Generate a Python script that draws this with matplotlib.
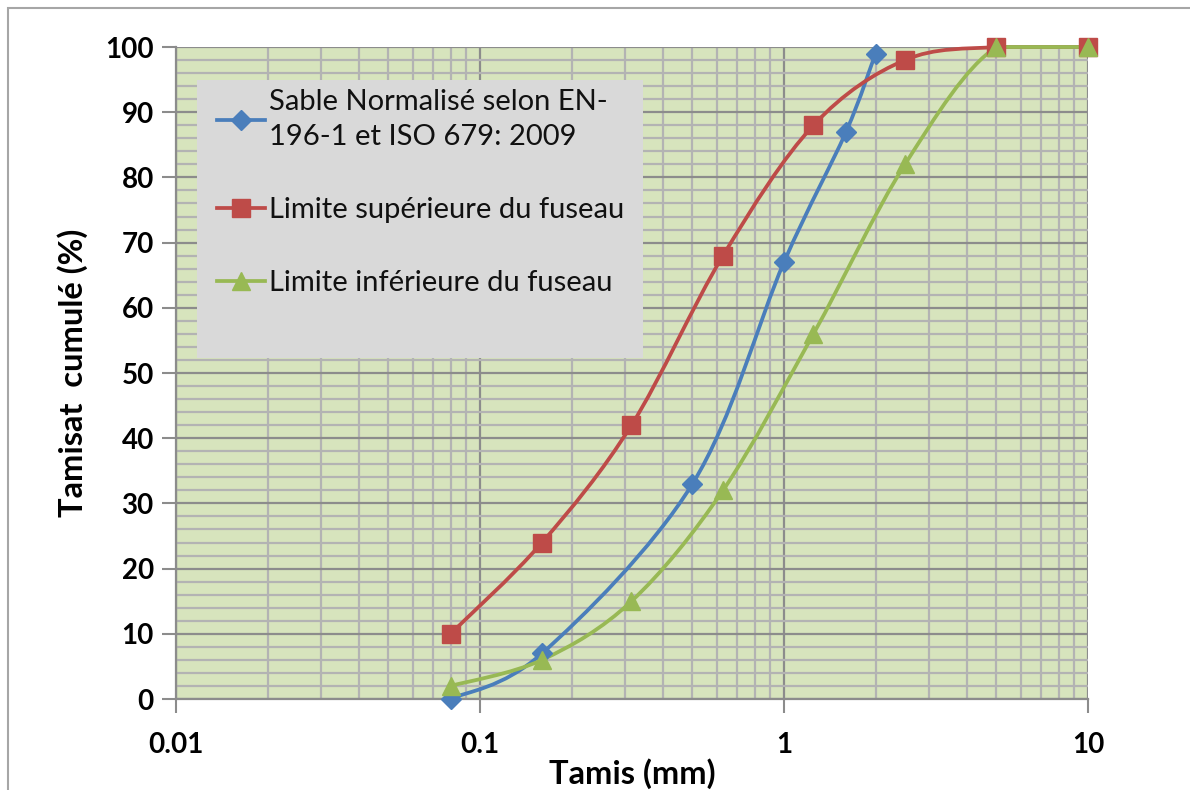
import numpy as np
import matplotlib.pyplot as plt
from matplotlib.path import Path
from matplotlib.patches import PathPatch, Rectangle
from matplotlib.lines import Line2D
from matplotlib.ticker import LogLocator, FixedLocator, MultipleLocator

# data
sable_x = [0.08, 0.16, 0.5, 1.0, 1.6, 2.0]
sable_y = [0, 7, 33, 67, 87, 99]
sup_x = [0.08, 0.16, 0.315, 0.63, 1.25, 2.5, 5, 10]
sup_y = [10, 24, 42, 68, 88, 98, 100, 100]
inf_x = [0.08, 0.16, 0.315, 0.63, 1.25, 2.5, 5, 10]
inf_y = [2, 6, 15, 32, 56, 82, 100, 100]

labels = ["Sable Normalisé selon EN-\n196-1 et ISO 679: 2009",
          "Limite supérieure du fuseau",
          "Limite inférieure du fuseau"]
colors = ["#4A7EBB", "#BE4B48", "#98B954"]
markers = ["D", "s", "^"]

plt.rcParams['font.family'] = ['Lato', 'DejaVu Sans']


def smooth_path(x, y):
    # Excel-like smoothed line: bezier through points, done in log-x space
    lx = np.log10(x)
    y = np.asarray(y, float)
    n = len(lx)
    verts = [(x[0], y[0])]
    codes = [Path.MOVETO]
    for i in range(n - 1):
        p0 = (lx[i - 1], y[i - 1]) if i > 0 else (lx[i], y[i])
        p1 = (lx[i], y[i])
        p2 = (lx[i + 1], y[i + 1])
        p3 = (lx[i + 2], y[i + 2]) if i + 2 < n else p2
        lo, hi = min(p1[1], p2[1]), max(p1[1], p2[1])
        c1 = (p1[0] + (p2[0] - p0[0]) / 6,
              np.clip(p1[1] + (p2[1] - p0[1]) / 6, lo, hi))
        c2 = (p2[0] - (p3[0] - p1[0]) / 6,
              np.clip(p2[1] - (p3[1] - p1[1]) / 6, lo, hi))
        for c in (c1, c2, p2):
            verts.append((10 ** c[0], c[1]))
            codes.append(Path.CURVE4)
    return Path(verts, codes)


fig = plt.figure(figsize=(11.9, 7.9), dpi=100)
ax = fig.add_axes([176 / 1190, 1 - 699 / 790, 912 / 1190, 652 / 790])
ax.set_facecolor("#D7E4BD")

ax.set_xscale("log")
ax.set_xlim(0.01, 10)
ax.set_ylim(0, 100)

ax.xaxis.set_major_locator(FixedLocator([0.01, 0.1, 1, 10]))
ax.xaxis.set_minor_locator(LogLocator(base=10, subs=range(2, 10)))
ax.xaxis.set_major_formatter(plt.FuncFormatter(lambda v, p: f"{v:g}"))
ax.xaxis.set_minor_formatter(plt.NullFormatter())
ax.yaxis.set_major_locator(MultipleLocator(10))
ax.yaxis.set_minor_locator(MultipleLocator(2))

ax.grid(which="minor", color="#B3B3B3", linewidth=1.6)
ax.grid(which="major", color="#8C8C8C", linewidth=1.6)
ax.set_axisbelow(True)

for s in ["top", "right"]:
    ax.spines[s].set_visible(False)
for s in ["left", "bottom"]:
    ax.spines[s].set_color("#8C8C8C")
    ax.spines[s].set_linewidth(1.6)

ax.tick_params(which="major", length=10, width=1.5, color="#8C8C8C",
               labelsize=20, pad=6)
ax.tick_params(which="minor", length=0)
for t in ax.get_xticklabels() + ax.get_yticklabels():
    t.set_fontweight("bold")
ax.tick_params(axis="x", pad=14)

series = [(sable_x, sable_y), (sup_x, sup_y), (inf_x, inf_y)]
handles = []
for (x, y), c, m, lab in zip(series, colors, markers, labels):
    ax.add_patch(PathPatch(smooth_path(x, y), facecolor="none", edgecolor=c,
                           linewidth=2.7, zorder=3, clip_on=False))
    ms = 10 if m == "D" else 13
    ax.plot(x, y, linestyle="none", marker=m, color=c, markersize=ms,
            zorder=4, clip_on=False)
    handles.append(Line2D([], [], color=c, marker=m, linewidth=2.7,
                          markersize=ms))

# gray legend box (Excel legend area was resized by hand)
ax.add_patch(Rectangle((21 / 912, 1 - 311 / 652), 446 / 912, 278 / 652,
                       transform=ax.transAxes, facecolor="#D9D9D9",
                       edgecolor="none", zorder=5))
leg = ax.legend(handles, labels, loc="upper left",
                bbox_to_anchor=(41 / 912, 1 - 42 / 652),
                fontsize=21, frameon=False, borderpad=0,
                labelspacing=1.6, handlelength=1.65,
                handletextpad=0.12, borderaxespad=0)
leg.set_zorder(6)
for t in leg.get_texts():
    t.set_color("#111111")
    t.set_linespacing(1.45)

ax.set_xlabel("Tamis (mm)", fontsize=23.5, fontweight="bold", labelpad=0)
ax.set_ylabel("Tamisat  cumulé (%)", fontsize=23.5, fontweight="bold", labelpad=12)

# chart area border
fig.patches.append(Rectangle((8 / 1190, -0.01), 1.1, 1 - 8 / 790 + 0.01,
                             transform=fig.transFigure, fill=False,
                             edgecolor="#A6A6A6", linewidth=1.5))

fig.savefig("out.png", dpi=100)
